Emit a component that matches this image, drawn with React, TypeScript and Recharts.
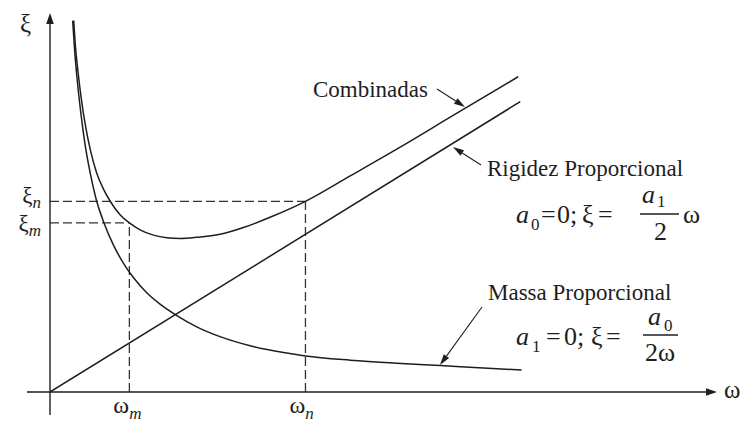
import { LineChart, Line, XAxis, YAxis, ReferenceLine, Customized } from 'recharts';

// Rayleigh damping sketch: values, in arbitrary units (0-100)
const OMEGA_TICKS = [11.9, 38.3];
const OMEGA_SUBS = ['m', 'n'];
const XI_TICKS = [44.6, 50.3];
const XI_SUBS = ['m', 'n'];

const MASSA_W = [3.4, 3.7, 4.1, 4.6, 5.2, 6.0, 6.9, 8.1, 9.5, 11.0, 12.5, 14.5, 16.5, 18.9, 22.0, 25.5, 30, 35, 38.3, 45, 52, 58.5, 65, 70.7];
const MASSA_XI = [98, 90, 82, 74, 66, 58, 51, 44.6, 38.8, 34.0, 30.2, 26.2, 23.2, 20.3, 17.2, 14.6, 12.2, 10.4, 9.5, 8.4, 7.6, 7.0, 6.3, 5.8];

const RIGIDEZ_W = [0, 70.5];
const RIGIDEZ_XI = [0, 76.6];

const COMB_W = [3.55, 3.8, 4.2, 4.7, 5.3, 6.1, 7.0, 8.0, 9.0, 10.5, 11.9, 13.5, 15.5, 17.5, 19.5, 22.0, 25.5, 29, 33.0, 38.3, 45, 52.5, 60, 70.2];
const COMB_XI = [98, 91.5, 84.5, 77.3, 70.4, 63.5, 57.8, 53.6, 50.4, 46.8, 44.6, 42.8, 41.4, 40.7, 40.5, 40.8, 41.6, 43.4, 46.1, 50.3, 57, 64.6, 72.5, 83.2];

const toPoints = (w: number[], xi: number[]) => w.map((v, i) => ({ w: v, xi: xi[i] }));

const INK = '#1e1e1e';
const SERIF = 'Liberation Serif, Times New Roman, serif';

function arrowHead(x1: number, y1: number, x2: number, y2: number, len: number, half: number) {
  const a = Math.atan2(y2 - y1, x2 - x1);
  const bx = x2 - len * Math.cos(a);
  const by = y2 - len * Math.sin(a);
  const px = -Math.sin(a) * half;
  const py = Math.cos(a) * half;
  return { bx, by, pts: `${x2},${y2} ${bx + px},${by + py} ${bx - px},${by - py}` };
}

function Arrow({ x1, y1, x2, y2 }: { x1: number; y1: number; x2: number; y2: number }) {
  const h = arrowHead(x1, y1, x2, y2, 11, 3.3);
  return (
    <g>
      <line x1={x1} y1={y1} x2={h.bx} y2={h.by} stroke={INK} strokeWidth={1.1} />
      <polygon points={h.pts} fill={INK} />
    </g>
  );
}

// axis line with arrow at the far end
const axisShape = (p: any) => {
  const h = arrowHead(p.x1, p.y1, p.x2, p.y2, 11, 3.8);
  return (
    <g>
      <line x1={p.x1} y1={p.y1} x2={h.bx} y2={h.by} stroke={INK} strokeWidth={1.4} />
      <polygon points={h.pts} fill={INK} />
    </g>
  );
};

function OmegaTick(props: any) {
  const { x, y, payload } = props;
  const sub = OMEGA_SUBS[OMEGA_TICKS.indexOf(payload.value)];
  return (
    <text x={x - 16} y={y + 21} style={{ fontFamily: SERIF }} fontSize={24} fill={INK}>
      ω
      <tspan dy={6} fontSize={17} fontStyle="italic">{sub}</tspan>
    </text>
  );
}

function XiTick(props: any) {
  const { x, y, payload } = props;
  const i = XI_TICKS.indexOf(payload.value);
  const dy = i === 0 ? 8 : 2;
  return (
    <text x={x - 9} y={y + dy} textAnchor="end" style={{ fontFamily: SERIF }} fontSize={23} fill={INK}>
      ξ
      <tspan dy={5} fontSize={17} fontStyle="italic">{XI_SUBS[i]}</tspan>
    </text>
  );
}

function Annotations() {
  const t = { style: { fontFamily: SERIF }, fill: INK };
  return (
    <g>
      <text x={20} y={32} fontSize={25} {...t}>ξ</text>
      <text x={724} y={398} fontSize={25} {...t}>ω</text>

      <text x={313} y={97} fontSize={23} {...t}>Combinadas</text>
      <Arrow x1={437} y1={89} x2={465} y2={107} />

      <text x={487} y={176} fontSize={23} {...t}>Rigidez Proporcional</text>
      <Arrow x1={481} y1={165} x2={453} y2={147} />

      <text x={488} y={300} fontSize={23} {...t}>Massa Proporcional</text>
      <Arrow x1={482} y1={307} x2={440} y2={365} />

      {/* a0 = 0; xi = a1/2 omega */}
      <g fontSize={26} {...t}>
        <text x={516} y={223} fontStyle="italic">a</text>
        <text x={531} y={230} fontSize={17}>0</text>
        <text x={541} y={223}>=</text>
        <text x={557} y={223}>0;</text>
        <text x={582} y={223}>ξ</text>
        <text x={598} y={223}>=</text>
        <text x={642} y={203} fontStyle="italic">a</text>
        <text x={657} y={207} fontSize={17}>1</text>
        <line x1={640} y1={214} x2={679} y2={214} stroke={INK} strokeWidth={1.3} />
        <text x={654} y={240}>2</text>
        <text x={683} y={223}>ω</text>
      </g>

      {/* a1 = 0; xi = a0/(2 omega) */}
      <g fontSize={26} {...t}>
        <text x={516} y={345} fontStyle="italic">a</text>
        <text x={532} y={352} fontSize={17}>1</text>
        <text x={546} y={345}>=</text>
        <text x={564} y={345}>0;</text>
        <text x={591} y={345}>ξ</text>
        <text x={606} y={345}>=</text>
        <text x={648} y={325} fontStyle="italic">a</text>
        <text x={664} y={331} fontSize={17}>0</text>
        <line x1={643} y1={335} x2={678} y2={335} stroke={INK} strokeWidth={1.3} />
        <text x={645} y={361}>2ω</text>
      </g>
    </g>
  );
}

export default function App() {
  const [wm, wn] = OMEGA_TICKS;
  const [xm, xn] = XI_TICKS;
  const dash = { stroke: '#333', strokeWidth: 1.3, strokeDasharray: '9 4' };
  return (
    <div style={{ position: 'fixed', left: 0, top: 0, width: 744, height: 425, background: '#fff', fontFamily: SERIF }}>
      <LineChart width={744} height={425} margin={{ top: 13, right: 27, bottom: 3, left: 20 }}>
        <XAxis
          dataKey="w"
          type="number"
          domain={[0, 100]}
          allowDataOverflow
          ticks={OMEGA_TICKS}
          interval={0}
          tick={<OmegaTick />}
          tickLine={false}
          axisLine={false}
          tickSize={0}
          tickMargin={0}
          height={30}
        />
        <YAxis
          type="number"
          domain={[0, 100]}
          allowDataOverflow
          ticks={XI_TICKS}
          interval={0}
          tick={<XiTick />}
          tickLine={false}
          axisLine={false}
          tickSize={0}
          tickMargin={0}
          width={30}
        />

        <ReferenceLine segment={[{ x: 0, y: xn }, { x: wn, y: xn }]} {...dash} />
        <ReferenceLine segment={[{ x: wn, y: 0 }, { x: wn, y: xn }]} {...dash} />
        <ReferenceLine segment={[{ x: 0, y: xm }, { x: wm, y: xm }]} {...dash} />
        <ReferenceLine segment={[{ x: wm, y: 0 }, { x: wm, y: xm }]} {...dash} />

        <ReferenceLine segment={[{ x: -3.45, y: 0 }, { x: 100, y: 0 }]} ifOverflow="visible" shape={axisShape} />
        <ReferenceLine segment={[{ x: 0, y: -6.1 }, { x: 0, y: 100 }]} ifOverflow="visible" shape={axisShape} />

        <Line data={toPoints(RIGIDEZ_W, RIGIDEZ_XI)} dataKey="xi" type="linear" stroke={INK} strokeWidth={1.5} dot={false} activeDot={false} isAnimationActive={false} />
        <Line data={toPoints(MASSA_W, MASSA_XI)} dataKey="xi" type="monotone" stroke={INK} strokeWidth={1.5} dot={false} activeDot={false} isAnimationActive={false} />
        <Line data={toPoints(COMB_W, COMB_XI)} dataKey="xi" type="monotone" stroke={INK} strokeWidth={1.5} dot={false} activeDot={false} isAnimationActive={false} />

        <Customized component={<Annotations />} />
      </LineChart>
    </div>
  );
}
